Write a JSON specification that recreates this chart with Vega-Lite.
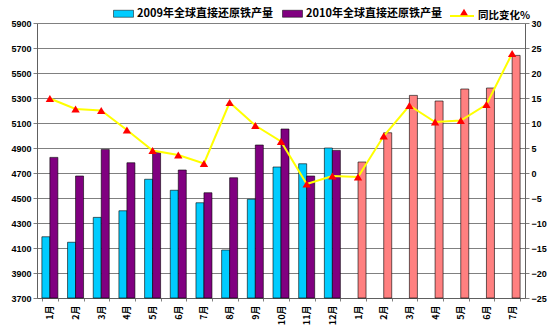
{
  "$schema": "https://vega.github.io/schema/vega-lite/v6.json",
  "autosize": {"type": "none"},
  "width": 488,
  "height": 275,
  "padding": {"left": 37, "top": 23, "right": 29, "bottom": 32},
  "background": "white",
  "config": {
    "view": {"stroke": null},
    "axis": {"labelColor": "#000000", "labelFontWeight": "bold", "domainColor": "#808080", "tickColor": "#808080", "title": null}
  },
  "datasets": {
    "bars": [
      {"m": "1月", "s": "2009年全球直接还原铁产量", "v": 4190},
      {"m": "2月", "s": "2009年全球直接还原铁产量", "v": 4146},
      {"m": "3月", "s": "2009年全球直接还原铁产量", "v": 4345},
      {"m": "4月", "s": "2009年全球直接还原铁产量", "v": 4398},
      {"m": "5月", "s": "2009年全球直接还原铁产量", "v": 4650},
      {"m": "6月", "s": "2009年全球直接还原铁产量", "v": 4562},
      {"m": "7月", "s": "2009年全球直接还原铁产量", "v": 4462},
      {"m": "8月", "s": "2009年全球直接还原铁产量", "v": 4084},
      {"m": "9月", "s": "2009年全球直接还原铁产量", "v": 4490},
      {"m": "10月", "s": "2009年全球直接还原铁产量", "v": 4748},
      {"m": "11月", "s": "2009年全球直接还原铁产量", "v": 4774},
      {"m": "12月", "s": "2009年全球直接还原铁产量", "v": 4900},
      {"m": "1月", "s": "2010年全球直接还原铁产量", "v": 4825},
      {"m": "2月", "s": "2010年全球直接还原铁产量", "v": 4676},
      {"m": "3月", "s": "2010年全球直接还原铁产量", "v": 4889},
      {"m": "4月", "s": "2010年全球直接还原铁产量", "v": 4782},
      {"m": "5月", "s": "2010年全球直接还原铁产量", "v": 4865},
      {"m": "6月", "s": "2010年全球直接还原铁产量", "v": 4724},
      {"m": "7月", "s": "2010年全球直接还原铁产量", "v": 4542},
      {"m": "8月", "s": "2010年全球直接还原铁产量", "v": 4662},
      {"m": "9月", "s": "2010年全球直接还原铁产量", "v": 4924},
      {"m": "10月", "s": "2010年全球直接还原铁产量", "v": 5052},
      {"m": "11月", "s": "2010年全球直接还原铁产量", "v": 4676},
      {"m": "12月", "s": "2010年全球直接还原铁产量", "v": 4881}
    ],
    "bars2011": [
      {"m": "1月 ", "v": 4788},
      {"m": "2月 ", "v": 5022},
      {"m": "3月 ", "v": 5321},
      {"m": "4月 ", "v": 5276},
      {"m": "5月 ", "v": 5372},
      {"m": "6月 ", "v": 5380},
      {"m": "7月 ", "v": 5641}
    ],
    "pct": [
      {"m": "1月", "series": "同比变化%", "p": 14.9},
      {"m": "2月", "series": "同比变化%", "p": 12.8},
      {"m": "3月", "series": "同比变化%", "p": 12.5},
      {"m": "4月", "series": "同比变化%", "p": 8.6},
      {"m": "5月", "series": "同比变化%", "p": 4.5},
      {"m": "6月", "series": "同比变化%", "p": 3.6},
      {"m": "7月", "series": "同比变化%", "p": 1.9},
      {"m": "8月", "series": "同比变化%", "p": 14.1},
      {"m": "9月", "series": "同比变化%", "p": 9.5},
      {"m": "10月", "series": "同比变化%", "p": 6.3},
      {"m": "11月", "series": "同比变化%", "p": -2.2},
      {"m": "12月", "series": "同比变化%", "p": -0.6},
      {"m": "1月 ", "series": "同比变化%", "p": -0.8},
      {"m": "2月 ", "series": "同比变化%", "p": 7.4},
      {"m": "3月 ", "series": "同比变化%", "p": 13.5},
      {"m": "4月 ", "series": "同比变化%", "p": 10.2},
      {"m": "5月 ", "series": "同比变化%", "p": 10.5},
      {"m": "6月 ", "series": "同比变化%", "p": 13.7},
      {"m": "7月 ", "series": "同比变化%", "p": 23.9}
    ]
  },
  "encoding": {
    "x": {
      "field": "m",
      "type": "nominal",
      "scale": {
        "domain": ["1月","2月","3月","4月","5月","6月","7月","8月","9月","10月","11月","12月","1月 ","2月 ","3月 ","4月 ","5月 ","6月 ","7月 "],
        "paddingInner": 0.377,
        "paddingOuter": 0.19
      },
      "axis": {
        "labelAngle": 270,
        "labelAlign": "right",
        "labelBaseline": "middle",
        "labelFont": "Noto Sans CJK SC",
        "labelFontSize": 9,
        "labelPadding": 4,
        "tickBand": "extent",
        "tickSize": 3,
        "grid": false,
        "domainColor": "#606060"
      }
    }
  },
  "layer": [
    {
      "encoding": {
        "y": {
          "field": "v",
          "type": "quantitative",
          "scale": {"domain": [3700, 5900], "nice": false, "zero": false},
          "axis": {
            "orient": "left",
            "values": [3700,3900,4100,4300,4500,4700,4900,5100,5300,5500,5700,5900],
            "format": "d",
            "labelOverlap": false,
            "labelFont": "Liberation Sans",
            "labelFontSize": 9,
            "tickSize": 4,
            "grid": true,
            "gridColor": "#808080",
            "gridWidth": 1,
            "domainColor": "#606060"
          }
        },
        "y2": {"datum": 3700}
      },
      "layer": [
        {
          "data": {"name": "bars"},
          "mark": {"type": "bar", "stroke": "#000000", "strokeWidth": 0.6},
          "encoding": {
            "xOffset": {"field": "s", "type": "nominal", "scale": {"domain": ["2009年全球直接还原铁产量", "2010年全球直接还原铁产量"], "paddingInner": 0, "paddingOuter": 0}},
            "fill": {
              "field": "s",
              "type": "nominal",
              "scale": {"domain": ["2009年全球直接还原铁产量", "2010年全球直接还原铁产量"], "range": ["#00CCFF", "#800080"]},
              "legend": {
                "orient": "none",
                "legendX": 76,
                "legendY": -20,
                "direction": "horizontal",
                "title": null,
                "symbolType": "M-1,-0.35H1V0.35H-1Z",
                "symbolSize": 400,
                "symbolStrokeColor": "#000000",
                "symbolStrokeWidth": 0.5,
                "labelFont": "Noto Sans CJK SC",
                "labelFontSize": 11,
                "labelFontWeight": "bold",
                "labelColor": "#000000",
                "labelOffset": 3,
                "columnPadding": 8
              }
            }
          }
        },
        {
          "data": {"name": "bars2011"},
          "mark": {"type": "bar", "stroke": "#000000", "strokeWidth": 0.6, "fill": "#FF8080"},
          "encoding": {
            "xOffset": {"datum": "2010年全球直接还原铁产量"}
          }
        }
      ]
    },
    {
      "data": {"name": "pct"},
      "encoding": {
        "y": {
          "field": "p",
          "type": "quantitative",
          "scale": {"domain": [-25, 30], "nice": false, "zero": false},
          "axis": {
            "orient": "right",
            "values": [-25,-20,-15,-10,-5,0,5,10,15,20,25,30],
            "format": "d",
            "labelOverlap": false,
            "labelFont": "Liberation Sans",
            "labelFontSize": 9,
            "tickSize": 4,
            "grid": false,
            "domainColor": "#606060"
          }
        }
      },
      "layer": [
        {
          "mark": {"type": "line", "strokeWidth": 2},
          "encoding": {
            "stroke": {
              "field": "series",
              "type": "nominal",
              "scale": {"range": ["#FFFF00"]},
              "legend": {
                "orient": "none",
                "legendX": 412,
                "legendY": -20,
                "title": null,
                "symbolType": "stroke",
                "symbolSize": 576,
                "symbolStrokeWidth": 2,
                "labelFont": "Noto Sans CJK SC",
                "labelFontSize": 10.5,
                "labelFontWeight": "bold",
                "labelColor": "#000000",
                "labelOffset": 3
              }
            }
          }
        },
        {
          "mark": {"type": "point", "filled": true, "color": "#FF0000", "size": 70, "opacity": 1},
          "encoding": {
            "shape": {
              "field": "series",
              "type": "nominal",
              "scale": {"range": ["triangle-up"]},
              "legend": {
                "orient": "none",
                "legendX": 422,
                "legendY": -16,
                "title": null,
                "symbolSize": 60,
                "symbolFillColor": "#FF0000",
                "symbolStrokeWidth": 0,
                "labelExpr": "''"
              }
            }
          }
        }
      ]
    }
  ],
  "resolve": {"scale": {"y": "independent"}}
}
